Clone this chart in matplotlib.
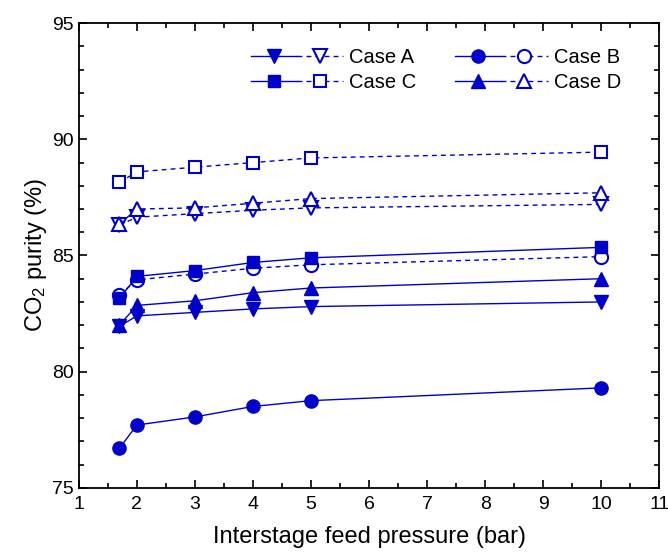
import numpy as np
import matplotlib
matplotlib.use('Agg')
import matplotlib.pyplot as plt
from matplotlib.legend_handler import HandlerTuple
from matplotlib.ticker import MultipleLocator

plt.rcParams['font.family'] = ['Liberation Sans', 'DejaVu Sans']
plt.rcParams['mathtext.fontset'] = 'custom'
plt.rcParams['mathtext.rm'] = 'Liberation Sans'
plt.rcParams['mathtext.it'] = 'Liberation Sans:italic'

# -------------------------------------------------------
# Data
pressure = [1.7, 2, 3, 4, 5, 10]

case_a_solid = [81.95, 82.4, 82.55, 82.7, 82.8, 83.0]
case_a_dash = [86.3, 86.65, 86.8, 86.95, 87.05, 87.2]
case_b_solid = [76.7, 77.7, 78.05, 78.5, 78.75, 79.3]
case_b_dash = [83.3, 83.95, 84.2, 84.45, 84.6, 84.95]
case_c_solid = [83.15, 84.1, 84.35, 84.7, 84.9, 85.35]
case_c_dash = [88.15, 88.6, 88.8, 89.0, 89.2, 89.45]
case_d_solid = [82.0, 82.85, 83.05, 83.4, 83.6, 84.0]
case_d_dash = [86.35, 87.0, 87.05, 87.25, 87.45, 87.7]

case_names = ['Case A', 'Case B', 'Case C', 'Case D']
markers = ['v', 'o', 's', '^']
sizes = [9.5, 9.5, 8.5, 9.5]

color = '#0000CC'

# -------------------------------------------------------
fig = plt.figure(figsize=(6.68, 5.53), dpi=100)
ax = fig.add_axes([0.118, 0.118, 0.869, 0.840])

solid_series = [case_a_solid, case_b_solid, case_c_solid, case_d_solid]
dash_series = [case_a_dash, case_b_dash, case_c_dash, case_d_dash]

handles = []
for name, mk, ms, ys, yd in zip(case_names, markers, sizes, solid_series, dash_series):
    h1, = ax.plot(pressure, ys, '-', color=color, lw=1.0, marker=mk, ms=ms,
                  mfc=color, mec=color)
    h2, = ax.plot(pressure, yd, '--', color=color, lw=1.0, dashes=(3.5, 3), marker=mk, ms=ms,
                  mfc='white', mec=color, mew=1.5)
    handles.append((h1, h2))

# legend: A, B on the first row, C, D on the second
order = [0, 2, 1, 3]
leg = ax.legend([handles[i] for i in order], [case_names[i] for i in order],
                handler_map={tuple: HandlerTuple(ndivide=None, pad=0)},
                ncol=2, loc='upper right', bbox_to_anchor=(0.965, 0.985),
                frameon=False, fontsize=14.5, handlelength=4.6, handletextpad=0.3,
                columnspacing=1.9, labelspacing=0.3)

ax.set_xlim(1, 11)
ax.set_ylim(75, 95)
ax.xaxis.set_major_locator(MultipleLocator(1))
ax.xaxis.set_minor_locator(MultipleLocator(0.5))
ax.yaxis.set_major_locator(MultipleLocator(5))
ax.yaxis.set_minor_locator(MultipleLocator(1))
ax.tick_params(which='both', direction='in', top=True, right=True, labelsize=14, width=1.2)
ax.tick_params(which='major', length=6)
ax.tick_params(which='minor', length=3.5)
ax.tick_params(axis='x', pad=6)
for s in ax.spines.values():
    s.set_linewidth(1.3)

ax.set_xlabel('Interstage feed pressure (bar)', fontsize=17, labelpad=9)
ax.set_ylabel('CO$_2$ purity (%)', fontsize=17, labelpad=2)

fig.savefig('out.png', dpi=100)
